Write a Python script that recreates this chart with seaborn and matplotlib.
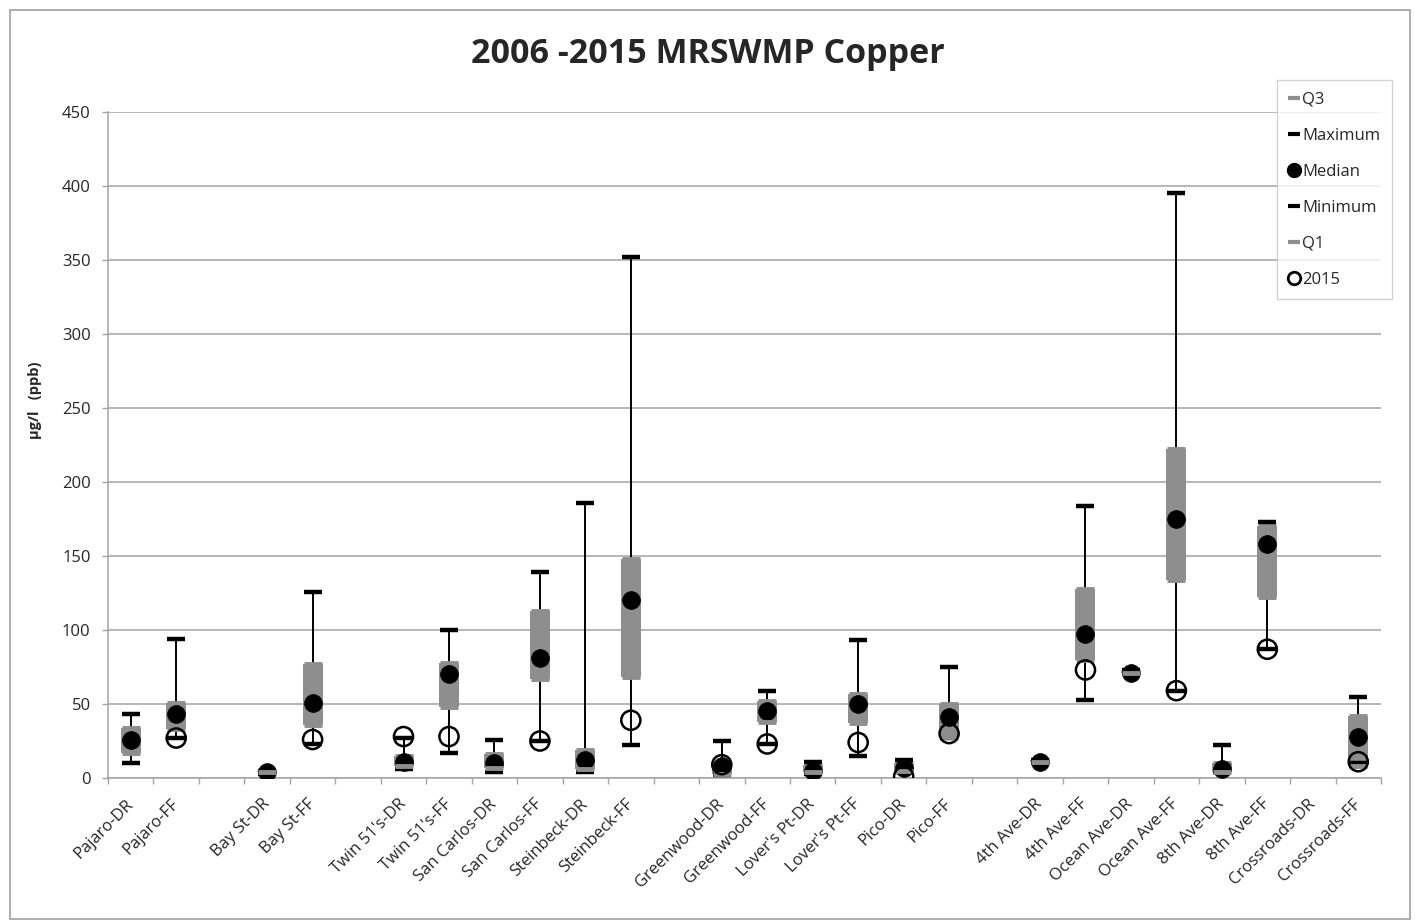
import numpy as np
import pandas as pd
import matplotlib
matplotlib.use("Agg")
import matplotlib.pyplot as plt
from matplotlib.lines import Line2D
from matplotlib.patches import Rectangle
import seaborn as sns

nan = np.nan

categories = ["Pajaro-DR", "Pajaro-FF", "", "Bay St-DR", "Bay St-FF", "",
              "Twin 51's-DR", "Twin 51's-FF", "San Carlos-DR", "San Carlos-FF",
              "Steinbeck-DR", "Steinbeck-FF", "",
              "Greenwood-DR", "Greenwood-FF", "Lover's Pt-DR", "Lover's Pt-FF",
              "Pico-DR", "Pico-FF", "",
              "4th Ave-DR", "4th Ave-FF", "Ocean Ave-DR", "Ocean Ave-FF",
              "8th Ave-DR", "8th Ave-FF", "Crossroads-DR", "Crossroads-FF"]

maximum = [43, 94, nan, 5, 126, nan, 27, 100, 26, 139, 186, 352, nan,
           25, 59, 11, 93, 12, 75, nan, 12, 184, 73, 395, 22, 173, nan, 55]
q3 = [34, 51, nan, 4.5, 77, nan, 15, 78, 16, 113, 19, 148, nan,
      10, 52, 9, 57, 10, 50, nan, 12, 128, 72, 222, 10, 170, nan, 42]
median = [26, 43, nan, 4, 51, nan, 11, 70, 10, 81, 12, 120, nan,
          8, 45, 5, 50, 7, 41, nan, 11, 97, 71, 175, 6, 158, nan, 28]
q1 = [17, 33, nan, 4, 36, nan, 8, 48, 7, 67, 6, 68, nan,
      3, 38, 4, 37, 5, 28, nan, 11, 80, 71, 134, 4, 122, nan, 8]
minimum = [10, 27, nan, 3, 23, nan, 6, 17, 4, 25, 4, 22, nan,
           2, 23, 3, 15, 4, 27, nan, 10, 53, 70, 59, 4, 87, nan, 10]
y2015 = [nan, 27, nan, nan, 26, nan, 28, 28, nan, 25, nan, 39, nan,
         9, 23, nan, 24, 1, 30, nan, nan, 73, nan, 59, nan, 87, nan, 11]

y_ticks = [0, 50, 100, 150, 200, 250, 300, 350, 400, 450]

sns.set_theme(style="white")
plt.rcParams["font.family"] = ["Open Sans", "DejaVu Sans"]

df = pd.DataFrame({"cat": categories, "pos": np.arange(len(categories)),
                   "max": maximum, "q3": q3, "median": median, "q1": q1,
                   "min": minimum, "y2015": y2015})

W, H = 1415, 923
fig = plt.figure(figsize=(W / 100, H / 100), dpi=100)
fig.patch.set_facecolor("white")
ax = fig.add_axes([108 / W, 1 - 778 / H, (1381 - 108) / W, (778 - 112) / H])

GRAY = "#8e8e8e"
GRID = "#a3a3a3"

# whiskers
valid = df.dropna(subset=["max"])
ax.vlines(valid["pos"], valid["min"], valid["max"], color="black", lw=1.4, zorder=2)
# boxes
ax.bar(valid["pos"], valid["q3"] - valid["q1"], bottom=valid["q1"], width=0.44,
       color=GRAY, edgecolor="none", zorder=3)

sns.scatterplot(data=df, x="pos", y="q3", marker="_", s=170, linewidth=3.5,
                color=GRAY, ax=ax, zorder=3.5, legend=False)
sns.scatterplot(data=df, x="pos", y="max", marker="_", s=150, linewidth=3.2,
                color="black", ax=ax, zorder=4, legend=False)
sns.scatterplot(data=df, x="pos", y="min", marker="_", s=150, linewidth=3.2,
                color="black", ax=ax, zorder=4, legend=False)
sns.scatterplot(data=df, x="pos", y="median", marker="o", s=165,
                color="black", edgecolor="black", linewidth=0.5, ax=ax, zorder=5,
                legend=False)
sns.scatterplot(data=df, x="pos", y="q1", marker="_", s=170, linewidth=3.5,
                color=GRAY, ax=ax, zorder=6, legend=False)
sns.scatterplot(data=df, x="pos", y="y2015", marker="o", s=190,
                facecolor="none", edgecolor="black", linewidth=1.8, ax=ax,
                zorder=7, legend=False)

# axes styling
ax.set_xlim(-0.5, len(categories) - 0.5)
ax.set_ylim(0, 450)
ax.set_yticks(y_ticks)
ax.set_yticklabels([str(t) for t in y_ticks], fontsize=12)
ax.yaxis.grid(True, color=GRID, lw=1.1, zorder=0)
ax.xaxis.grid(False)
ax.set_axisbelow(True)
ax.set_xticks(np.arange(len(categories)))
ax.set_xticklabels(categories, rotation=45, ha="right", va="center",
                   rotation_mode="anchor", fontsize=12)
ax.set_xticks(np.arange(len(categories) + 1) - 0.5, minor=True)
ax.tick_params(axis="x", which="major", length=0, pad=17)
ax.tick_params(axis="x", which="minor", length=4.5, width=1, color=GRID,
               direction="out", bottom=True)
ax.tick_params(axis="y", which="major", length=4.5, width=1, color=GRID,
               direction="out", left=True, pad=8)
for s in ["top", "right"]:
    ax.spines[s].set_visible(False)
for s in ["left", "bottom"]:
    ax.spines[s].set_color(GRID)
    ax.spines[s].set_linewidth(1.1)
ax.set_xlabel("")
ax.set_ylabel("")

fig.text(35 / W, 1 - 400 / H, "µg/l   (ppb)", rotation=90, ha="center",
         va="center", fontsize=10.5, fontweight="bold")
fig.text(708 / W, 1 - 54 / H, "2006 -2015 MRSWMP Copper", ha="center",
         va="center", fontsize=24.5, fontweight="bold")

# legend
handles = [
    Line2D([], [], color=GRAY, marker="_", ls="none", markersize=9, mew=3),
    Line2D([], [], color="black", marker="_", ls="none", markersize=9, mew=3),
    Line2D([], [], color="black", marker="o", ls="none", markersize=10),
    Line2D([], [], color="black", marker="_", ls="none", markersize=9, mew=3),
    Line2D([], [], color=GRAY, marker="_", ls="none", markersize=9, mew=3),
    Line2D([], [], color="black", marker="o", ls="none", markersize=9,
           mfc="none", mew=2),
]
labels = ["Q3", "Maximum", "Median", "Minimum", "Q1", "2015"]
leg = fig.legend(handles, labels, loc="upper left",
                 bbox_to_anchor=(1277 / W, 1 - 80 / H), frameon=True,
                 fontsize=12, handlelength=0.6, handletextpad=0.2,
                 labelspacing=1.2, borderpad=0.7, fancybox=False,
                 borderaxespad=0)
leg.get_frame().set_edgecolor("#c8c8c8")
leg.get_frame().set_linewidth(1.0)

# chart border
fig.patches.append(Rectangle((10 / W, 4 / H), (1410 - 10) / W, (919 - 10) / H,
                             transform=fig.transFigure, fill=False,
                             edgecolor="#a0a0a0", lw=1.2))

fig.savefig("out.png", dpi=100)
